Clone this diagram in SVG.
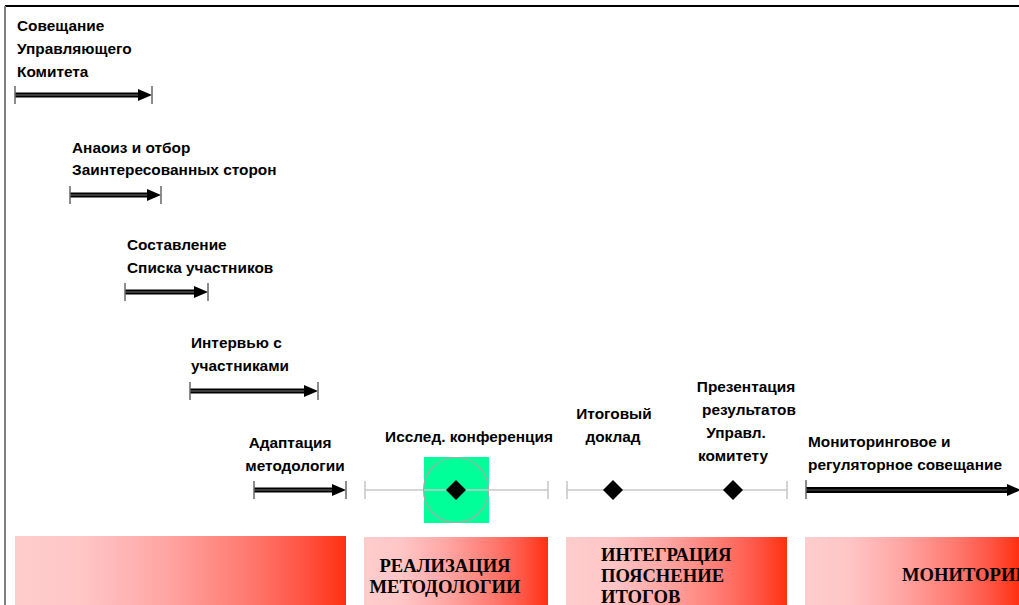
<svg xmlns="http://www.w3.org/2000/svg" width="1019" height="605" viewBox="0 0 1019 605">
<defs>
<linearGradient id="bar" x1="0" y1="0" x2="1" y2="0">
<stop offset="0" stop-color="#ffcccc"/>
<stop offset="0.2" stop-color="#ffc6c6"/>
<stop offset="0.45" stop-color="#ffa6a4"/>
<stop offset="0.7" stop-color="#ff7a70"/>
<stop offset="0.87" stop-color="#ff5444"/>
<stop offset="1" stop-color="#ff3010"/>
</linearGradient>
<style>
.t{font-family:"Liberation Sans",Arial,sans-serif;font-weight:bold;font-size:15.4px;fill:#000}
.b{font-family:"Liberation Serif","Times New Roman",serif;font-weight:bold;font-size:18.6px;fill:#000}
.tick{stroke:#666;stroke-width:1.5}
.gtick{stroke:#c4c4c4;stroke-width:1.5}
.shaft{stroke:#000;stroke-width:5}
.core{stroke:#777;stroke-width:1}
.gl{stroke:#c8c8c8;stroke-width:1.5}
</style>
</defs>
<rect width="1019" height="605" fill="#fff"/>
<line x1="5" y1="6" x2="1019" y2="6" stroke="#000" stroke-width="2"/>
<line x1="5" y1="6" x2="5" y2="605" stroke="#808080" stroke-width="2"/>

<g id="phases">
<rect x="15" y="536" width="331" height="69" fill="url(#bar)"/>
<g id="phase-realization">
<rect x="364" y="537" width="184" height="68" fill="url(#bar)"/>
<text class="b" x="445" y="572" text-anchor="middle">РЕАЛИЗАЦИЯ</text>
<text class="b" x="445" y="593" text-anchor="middle">МЕТОДОЛОГИИ</text>
</g>
<g id="phase-integration">
<rect x="566" y="537" width="221" height="68" fill="url(#bar)"/>
<text class="b" x="601" y="561">ИНТЕГРАЦИЯ</text>
<text class="b" x="601" y="582">ПОЯСНЕНИЕ</text>
<text class="b" x="601" y="603">ИТОГОВ</text>
</g>
<g id="phase-monitoring">
<rect x="805" y="537" width="214" height="68" fill="url(#bar)"/>
<text class="b" x="902" y="581">МОНИТОРИНГ</text>
</g>
</g>

<g id="connectors">
<g id="a1">
<line class="shaft" x1="15" y1="95" x2="140" y2="95"/><line class="core" x1="15" y1="95" x2="140" y2="95"/>
<polygon points="138,89 152,95 138,101" fill="#000"/>
<line class="tick" x1="15" y1="86" x2="15" y2="104"/><line class="tick" x1="152" y1="86" x2="152" y2="104"/>
</g>
<g id="a2">
<line class="shaft" x1="70" y1="195" x2="149" y2="195"/><line class="core" x1="70" y1="195" x2="149" y2="195"/>
<polygon points="147,189 161,195 147,201" fill="#000"/>
<line class="tick" x1="70" y1="186" x2="70" y2="204"/><line class="tick" x1="161" y1="186" x2="161" y2="204"/>
</g>
<g id="a3">
<line class="shaft" x1="125" y1="292" x2="196" y2="292"/><line class="core" x1="125" y1="292" x2="196" y2="292"/>
<polygon points="194,286 208,292 194,298" fill="#000"/>
<line class="tick" x1="125" y1="283" x2="125" y2="301"/><line class="tick" x1="208" y1="283" x2="208" y2="301"/>
</g>
<g id="a4">
<line class="shaft" x1="190" y1="391" x2="306" y2="391"/><line class="core" x1="190" y1="391" x2="306" y2="391"/>
<polygon points="304,385 318,391 304,397" fill="#000"/>
<line class="tick" x1="190" y1="382" x2="190" y2="400"/><line class="tick" x1="318" y1="382" x2="318" y2="400"/>
</g>
<g id="a5">
<line class="shaft" x1="254" y1="490" x2="334" y2="490"/><line class="core" x1="254" y1="490" x2="334" y2="490"/>
<polygon points="332,484 346,490 332,496" fill="#000"/>
<line class="tick" x1="254" y1="481" x2="254" y2="499"/><line class="tick" x1="346" y1="481" x2="346" y2="499"/>
</g>
<g id="a6">
<line x1="806" y1="490" x2="1010" y2="490" stroke="#000" stroke-width="6"/><line x1="806" y1="490" x2="1010" y2="490" stroke="#555" stroke-width="1"/>
<polygon points="1007,484 1021,490 1007,496" fill="#000"/>
<line class="tick" x1="806" y1="480" x2="806" y2="499" stroke="#000"/>
</g>
<g id="t1">
<line class="gl" x1="365" y1="490" x2="548" y2="490"/>
<line class="gtick" x1="365" y1="481" x2="365" y2="499"/><line class="gtick" x1="548" y1="481" x2="548" y2="499"/>
</g>
<g id="t2">
<line class="gl" x1="567" y1="490" x2="787" y2="490"/>
<line class="gtick" x1="567" y1="481" x2="567" y2="499"/><line class="gtick" x1="787" y1="481" x2="787" y2="499"/>
</g>
</g>

<g id="milestone-conference">
<rect x="424" y="457" width="65" height="66" fill="#00ff99"/>
<circle cx="456" cy="490" r="32.5" fill="none" stroke="#aaa" stroke-width="1.2"/>
<line class="gl" x1="424" y1="490" x2="489" y2="490"/>
<polygon points="456,480 466,490 456,500 446,490" fill="#000"/>
</g>
<g id="milestone-report">
<polygon points="613,480 623,490 613,500 603,490" fill="#000"/>
</g>
<g id="milestone-presentation">
<polygon points="733,480 743,490 733,500 723,490" fill="#000"/>
</g>

<g id="labels">
<text class="t" x="17" y="31">Совещание</text>
<text class="t" x="17" y="54">Управляющего</text>
<text class="t" x="17" y="77">Комитета</text>
<text class="t" x="72" y="153">Анаоиз и отбор</text>
<text class="t" x="72" y="175">Заинтересованных сторон</text>
<text class="t" x="127" y="250">Составление</text>
<text class="t" x="127" y="273">Списка участников</text>
<text class="t" x="191" y="348">Интервью с</text>
<text class="t" x="191" y="371">участниками</text>
<text class="t" x="290" y="448" text-anchor="middle">Адаптация</text>
<text class="t" x="295" y="471" text-anchor="middle">методологии</text>
<text class="t" x="469" y="442" text-anchor="middle">Исслед. конференция</text>
<text class="t" x="614" y="419" text-anchor="middle">Итоговый</text>
<text class="t" x="613" y="442" text-anchor="middle">доклад</text>
<text class="t" x="746" y="392" text-anchor="middle">Презентация</text>
<text class="t" x="749" y="415" text-anchor="middle">результатов</text>
<text class="t" x="736" y="438" text-anchor="middle">Управл.</text>
<text class="t" x="733" y="461" text-anchor="middle">комитету</text>
<text class="t" x="808" y="447">Мониторинговое и</text>
<text class="t" x="808" y="470">регуляторное совещание</text>
</g>
</svg>
